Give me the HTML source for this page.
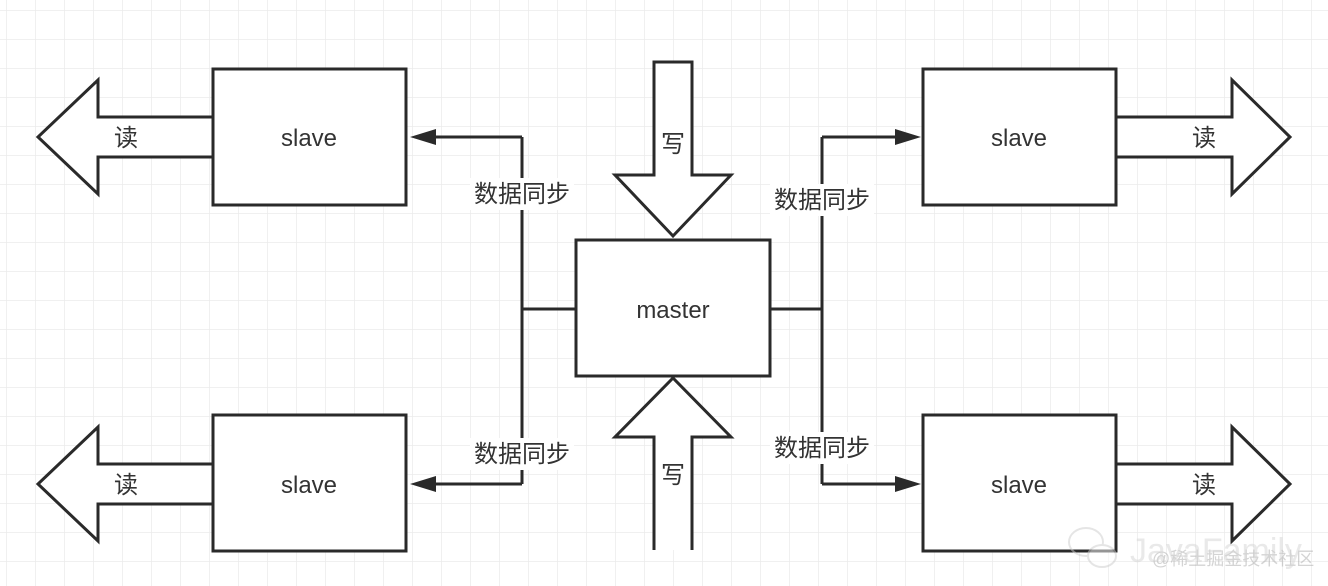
<!DOCTYPE html>
<html><head><meta charset="utf-8"><style>
body{margin:0;width:1328px;height:586px;overflow:hidden;background:#fff;}
svg{display:block}
text{font-family:"Liberation Sans","Noto Sans CJK SC",sans-serif;fill:#333;}
</style></head><body>
<svg width="1328" height="586" viewBox="0 0 1328 586">
<defs>
<pattern id="g" x="6" y="10" width="29" height="29" patternUnits="userSpaceOnUse">
<path d="M0 0V29M0 0H29" stroke="#ebebeb" stroke-width="1.5" fill="none"/>
</pattern>
</defs>
<rect width="1328" height="586" fill="url(#g)"/>
<g stroke="#2a2a2a" stroke-width="3" fill="#fff">
<path d="M213 117H98V80L38 137L98 194V157H213"/>
<path d="M213 464H98V427L38 484L98 541V504H213"/>
<path d="M1116 117H1232V80L1290 137L1232 194V157H1116"/>
<path d="M1116 464H1232V427L1290 484L1232 541V504H1116"/>
<path d="M654 62H692V175H731L673 236L615 175H654Z"/>
<path d="M654 550V437H615L673 378L731 437H692V550"/>
<rect x="213" y="69" width="193" height="136"/>
<rect x="213" y="415" width="193" height="136"/>
<rect x="923" y="69" width="193" height="136"/>
<rect x="923" y="415" width="193" height="136"/>
<rect x="576" y="240" width="194" height="136"/>
<path d="M576 309H522M522 137V484M522 137H430M522 484H430" fill="none"/>
<path d="M770 309H822M822 137V484M822 137H900M822 484H900" fill="none"/>
</g>
<g fill="#2a2a2a">
<path d="M410 137L436 129V145Z"/>
<path d="M410 484L436 476V492Z"/>
<path d="M921 137L895 129V145Z"/>
<path d="M921 484L895 476V492Z"/>
</g>
<g fill="#fff">
<rect x="470" y="178" width="104" height="32"/>
<rect x="470" y="438" width="104" height="32"/>
<rect x="770" y="184" width="104" height="32"/>
<rect x="770" y="432" width="104" height="32"/>
</g>
<g font-size="24" text-anchor="middle">
<text x="309" y="146">slave</text>
<text x="309" y="493">slave</text>
<text x="1019" y="146">slave</text>
<text x="1019" y="493">slave</text>
<text x="673" y="318">master</text>
<text x="126" y="146">读</text>
<text x="126" y="493">读</text>
<text x="1204" y="146">读</text>
<text x="1204" y="493">读</text>
<text x="673" y="152">写</text>
<text x="673" y="483">写</text>
<text x="522" y="202">数据同步</text>
<text x="522" y="462">数据同步</text>
<text x="822" y="208">数据同步</text>
<text x="822" y="456">数据同步</text>
</g>
<g opacity="0.5">
<ellipse cx="1086" cy="542" rx="17" ry="14" fill="none" stroke="#ccc" stroke-width="2"/>
<ellipse cx="1102" cy="556" rx="14" ry="11" fill="#fff" stroke="#ccc" stroke-width="2"/>
<text x="1130" y="562" font-size="34" style="fill:#d5d5d5">JavaFamily</text>
<text x="1152" y="565" font-size="18" style="fill:#aaa">@稀土掘金技术社区</text>
</g>
</svg>
</body></html>
